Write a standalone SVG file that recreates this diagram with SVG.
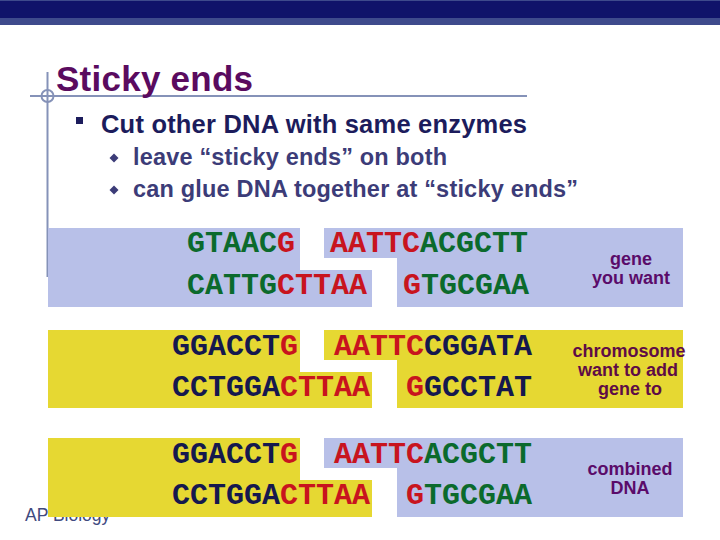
<svg xmlns="http://www.w3.org/2000/svg" width="720" height="540" viewBox="0 0 720 540">
<style>
.dna{font-family:"Liberation Mono","Courier New",monospace;font-weight:bold;font-size:30px}
.g{fill:#0b6a2c}.r{fill:#c8141e}.n{fill:#15184e}
.blue{fill:#b8c0e8}.yel{fill:#e6d832}
.lab{font-family:"Liberation Sans",Arial,sans-serif;font-weight:bold;font-size:18px;text-anchor:middle}
.guide{stroke:#8592b8;stroke-width:2;fill:none}
</style>
<rect width="720" height="540" fill="#ffffff"/>
<g id="header">
<rect x="0" y="0" width="720" height="25" fill="#3e4a8c"/>
<rect x="0" y="1" width="720" height="17" fill="#10136a"/>
</g>
<g id="title-guides">
<line class="guide" x1="30" y1="96" x2="527" y2="96"/>
<line class="guide" x1="47.5" y1="72" x2="47.5" y2="277"/>
<circle class="guide" cx="47.5" cy="96" r="6" stroke-width="1.5"/>
</g>
<text id="ap-biology" x="25" y="521" font-family="'Liberation Sans',Arial,sans-serif" font-size="17.5" fill="#404a80">AP Biology</text>
<text id="title" x="56" y="91" font-family="'Liberation Sans',Arial,sans-serif" font-weight="bold" font-size="35" fill="#5a0b5f" textLength="197">Sticky ends</text>
<g id="bullets" font-family="'Liberation Sans',Arial,sans-serif" font-weight="bold">
<rect x="76" y="117" width="7" height="7" fill="#1c1c5c"/>
<text x="101" y="133" font-size="25.5" fill="#1c1c5c" textLength="426">Cut other DNA with same enzymes</text>
<polygon points="114,153.5 118.5,158 114,162.5 109.5,158" fill="#3c3c78"/>
<text x="133" y="165" font-size="23.5" fill="#3c3c78" textLength="314">leave “sticky ends” on both</text>
<polygon points="114,185.5 118.5,190 114,194.5 109.5,190" fill="#3c3c78"/>
<text x="133" y="197" font-size="23.5" fill="#3c3c78" textLength="445">can glue DNA together at “sticky ends”</text>
</g>
<g id="gene-left">
<polygon class="blue" points="48,228 300,228 300,270 372,270 372,307 48,307"/>
<text class="dna" x="187" y="252"><tspan class="g">GTAAC</tspan><tspan class="r">G</tspan></text>
<text class="dna" x="187" y="294"><tspan class="g">CATTG</tspan><tspan class="r">CTTAA</tspan></text>
</g>
<g id="gene-right">
<polygon class="blue" points="324,228 683,228 683,307 397,307 397,258 324,258"/>
<text class="dna" x="330" y="252"><tspan class="r">AATTC</tspan><tspan class="g">ACGCTT</tspan></text>
<text class="dna" x="403" y="294"><tspan class="r">G</tspan><tspan class="g">TGCGAA</tspan></text>
<text class="lab" fill="#5a0b6a"><tspan x="631" y="265">gene</tspan><tspan x="631" y="284">you want</tspan></text>
</g>
<g id="chromosome-left">
<polygon class="yel" points="48,330 300,330 300,372 372,372 372,408 48,408"/>
<text class="dna" x="172" y="355"><tspan class="n">GGACCT</tspan><tspan class="r">G</tspan></text>
<text class="dna" x="172" y="396"><tspan class="n">CCTGGA</tspan><tspan class="r">CTTAA</tspan></text>
</g>
<g id="chromosome-right">
<polygon class="yel" points="324,330 683,330 683,408 397,408 397,360 324,360"/>
<text class="dna" x="334" y="355"><tspan class="r">AATTC</tspan><tspan class="n">CGGATA</tspan></text>
<text class="dna" x="406" y="396"><tspan class="r">G</tspan><tspan class="n">GCCTAT</tspan></text>
<text class="lab" fill="#5e0c46"><tspan x="629" y="357">chromosome</tspan><tspan x="628" y="376">want to add</tspan><tspan x="630" y="395">gene to</tspan></text>
</g>
<g id="combined-left">
<polygon class="yel" points="48,438 300,438 300,480 372,480 372,517 48,517"/>
<text class="dna" x="172" y="463"><tspan class="n">GGACCT</tspan><tspan class="r">G</tspan></text>
<text class="dna" x="172" y="504"><tspan class="n">CCTGGA</tspan><tspan class="r">CTTAA</tspan></text>
</g>
<g id="combined-right">
<polygon class="blue" points="324,438 683,438 683,517 397,517 397,468 324,468"/>
<text class="dna" x="334" y="463"><tspan class="r">AATTC</tspan><tspan class="g">ACGCTT</tspan></text>
<text class="dna" x="406" y="504"><tspan class="r">G</tspan><tspan class="g">TGCGAA</tspan></text>
<text class="lab" fill="#5a0b6a"><tspan x="630" y="475">combined</tspan><tspan x="630" y="494">DNA</tspan></text>
</g>
<g id="connectors"/>
</svg>
